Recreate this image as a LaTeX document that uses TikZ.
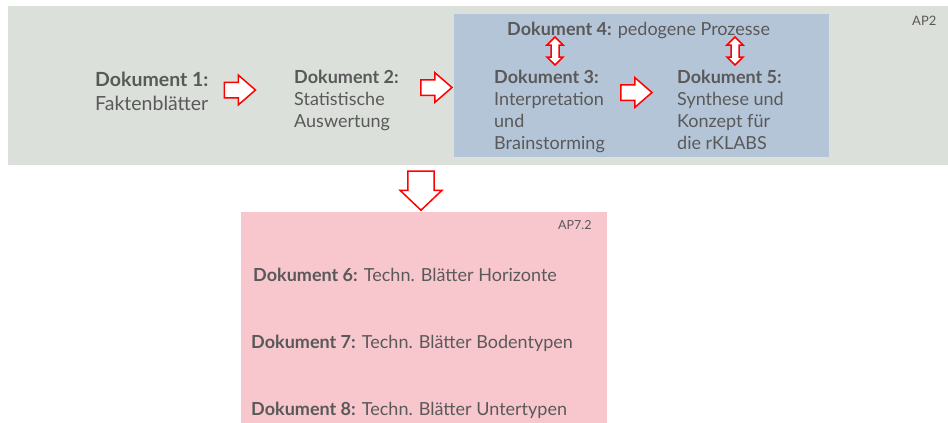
\documentclass[tikz,border=0pt]{standalone}
\usepackage{fontspec}
\setmainfont{Lato}
\usetikzlibrary{shapes.arrows}
\definecolor{apgrey}{RGB}{220,224,219}
\definecolor{apblue}{RGB}{181,197,216}
\definecolor{appink}{RGB}{248,199,206}
\definecolor{doctext}{RGB}{89,89,89}
\tikzstyle{panel} = [rectangle, anchor=north west, inner sep=0pt, outer sep=0pt]
\tikzstyle{doc} = [anchor=base west, align=left, inner sep=0pt, text=doctext, font=\fontsize{18}{22}\selectfont]
\tikzstyle{bigdoc} = [doc, font=\fontsize{19.5}{24}\selectfont]
\tikzstyle{aplabel} = [anchor=base west, inner sep=0pt, text=doctext, font=\fontsize{13}{15}\selectfont]
\tikzstyle{rarrow} = [single arrow, draw=red, fill=white, line width=1.5pt, inner sep=0pt,
text height=7pt, text depth=7pt, minimum width=28pt, minimum height=31pt,
single arrow tip angle=82, single arrow head indent=0pt]
\tikzstyle{darrow} = [single arrow, rotate=-90, draw=red, fill=white, line width=1.5pt, inner sep=0pt,
text height=11pt, text depth=11pt, minimum width=42pt, minimum height=39pt,
single arrow tip angle=93, single arrow head indent=0pt]
\tikzset{udarrow/.pic={
    \draw[red, fill=white, line width=1.5pt, line join=miter]
        (0,-14) -- (8,-6) -- (4,-6) -- (4,6) -- (8,6) -- (0,14)
        -- (-8,6) -- (-4,6) -- (-4,-6) -- (-8,-6) -- cycle;
}}

\begin{document}
\begin{tikzpicture}[x=1pt, y=-1pt]
            \useasboundingbox (0,0) rectangle (948,423);

            % Work package boxes
            \node(ap2) [panel, fill=apgrey, minimum width=940pt, minimum height=159pt] at (8,6) {};
            \node(ap2blue) [panel, fill=apblue, minimum width=375pt, minimum height=143pt] at (454,14) {};
            \node(ap72) [panel, fill=appink, minimum width=366pt, minimum height=211pt] at (241,212) {};

            \node(ap2lbl) [aplabel] at (912,25) {AP2};
            \node(ap72lbl) [aplabel, font=\fontsize{12.5}{14}\selectfont] at (558,229) {AP7.2};

            % Documents AP2 (anchored at the baseline of the last line)
            \node(doc1) [bigdoc] at (95,110) {\textbf{Dokument 1:}\\Faktenblätter};
            \node(doc2) [doc] at (294,127) {\textbf{Dokument 2:}\\Statistische\\Auswertung};
            \node(doc4) [doc] at (507,35) {\textbf{Dokument 4:} pedogene Prozesse};
            \node(doc3) [doc] at (494,149) {\textbf{Dokument 3:}\\Interpretation\\und\\Brainstorming};
            \node(doc5) [doc] at (677,149) {\textbf{Dokument 5:}\\Synthese und\\Konzept für\\die rKLABS};

            % Documents AP7.2
            \node(doc6) [doc] at (253,281) {\textbf{Dokument 6:} Techn. Blätter Horizonte};
            \node(doc7) [doc] at (251,348) {\textbf{Dokument 7:} Techn. Blätter Bodentypen};
            \node(doc8) [doc] at (251,415) {\textbf{Dokument 8:} Techn. Blätter Untertypen};

            % Draw Arrows
            \node(a12) [rarrow] at (235.5,90) {};
            \node(a23) [rarrow] at (432,87.5) {};
            \node(a35) [rarrow] at (632,92.5) {};
            \pic at (555,51) {udarrow};
            \pic at (735,51) {udarrow};
            \node(adown) [darrow] at (421,184.5) {};
\end{tikzpicture}
\end{document}
